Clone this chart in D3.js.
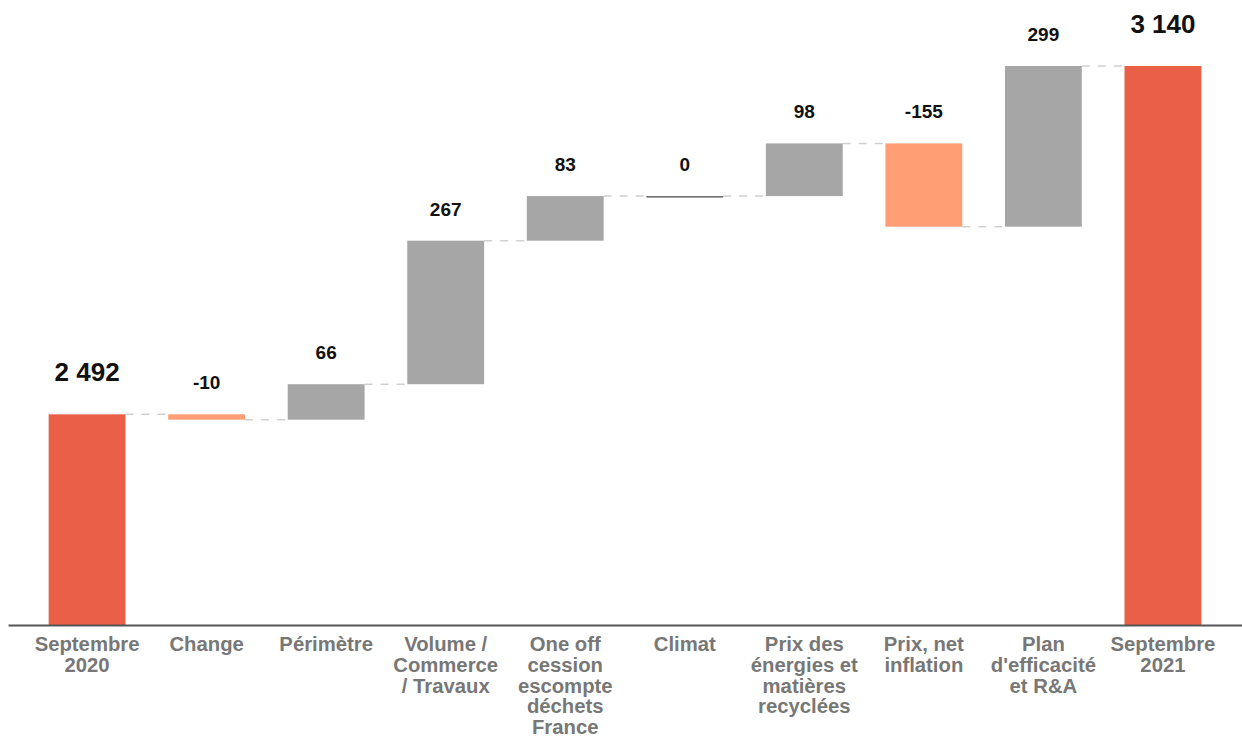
<!DOCTYPE html>
<html>
<head>
<meta charset="utf-8">
<script src="https://cdn.jsdelivr.net/npm/d3@7"></script>
<style>
  body { margin: 0; background: #fff; }
  svg { display: block; font-family: "Liberation Sans", Arial, sans-serif; }
</style>
</head>
<body>
<svg id="chart" width="1242" height="738"></svg>
<script>
// categories (line breaks as in the picture)
const categories = [
  "Septembre\n2020", "Change", "Périmètre", "Volume /\nCommerce\n/ Travaux",
  "One off\ncession\nescompte\ndéchets\nFrance", "Climat",
  "Prix des\nénergies et\nmatières\nrecyclées", "Prix, net\ninflation",
  "Plan\nd'efficacité\net R&A", "Septembre\n2021"
];
// bar values: totals for first/last, deltas in between
const values = [2492, -10, 66, 267, 83, 0, 98, -155, 299, 3140];
const kinds = ["total", "delta", "delta", "delta", "delta", "delta", "delta", "delta", "delta", "total"];
const valueLabels = ["2 492", "-10", "66", "267", "83", "0", "98", "-155", "299", "3 140"];
const yDomain = [2100, 3200];

const svg = d3.select("#chart");

// running sums -> start / end of each bar
let run = 0;
const bars = categories.map((c, i) => {
  let start, end;
  if (kinds[i] === "total") { start = yDomain[0]; end = values[i]; run = values[i]; }
  else { start = run; end = run + values[i]; run = end; }
  return { cat: c, v: values[i], kind: kinds[i], start, end, label: valueLabels[i] };
});

const x = d3.scaleBand()
  .domain(categories)
  .range([8, 1242])
  .paddingInner(0.357)
  .paddingOuter(0.34);

const y = d3.scaleLinear()
  .domain(yDomain)
  .range([625, 33.75]);

function colour(d) {
  if (d.kind === "total") return "#E95F47";
  if (d.v < 0) return "#FF9E74";
  return "#A6A6A6";
}

// connectors
for (let i = 0; i < bars.length - 1; i++) {
  const lvl = bars[i].end;
  svg.append("line")
    .attr("x1", x(bars[i].cat) + x.bandwidth())
    .attr("x2", x(bars[i + 1].cat))
    .attr("y1", y(lvl))
    .attr("y2", y(lvl))
    .attr("stroke", "#d0d0d0")
    .attr("stroke-width", 1.5)
    .attr("stroke-dasharray", "8,8");
}

// bars
svg.selectAll("rect.bar")
  .data(bars)
  .enter()
  .append("rect")
  .attr("class", "bar")
  .attr("x", d => x(d.cat))
  .attr("width", x.bandwidth())
  .attr("y", d => y(Math.max(d.start, d.end)))
  .attr("height", d => Math.max(1.5, Math.abs(y(d.start) - y(d.end))))
  .attr("fill", d => d.v === 0 ? "#666" : colour(d));

// value labels
svg.selectAll("text.val")
  .data(bars)
  .enter()
  .append("text")
  .attr("class", "val")
  .attr("x", d => x(d.cat) + x.bandwidth() / 2)
  .attr("y", d => y(Math.max(d.start, d.end)) - (d.kind === "total" ? 33 : 25))
  .attr("text-anchor", "middle")
  .attr("fill", "#111")
  .style("font-weight", "bold")
  .style("font-size", d => d.kind === "total" ? "26px" : "19px")
  .text(d => d.label);

// x axis
const axis = svg.append("g")
  .attr("transform", "translate(0,625)")
  .call(d3.axisBottom(x).tickSize(0).tickSizeOuter(0));

axis.select(".domain")
  .attr("stroke", "#555")
  .attr("stroke-width", 2);

axis.selectAll(".tick text").each(function (d) {
  const t = d3.select(this);
  t.text(null)
    .attr("y", 26)
    .attr("dy", null)
    .attr("fill", "#777")
    .style("font-family", "'Liberation Sans', Arial, sans-serif")
    .style("font-weight", "bold")
    .style("font-size", "20.3px");
  d.split("\n").forEach((line, k) => {
    t.append("tspan")
      .attr("x", 0)
      .attr("y", 26 + k * 20.8)
      .text(line);
  });
});
</script>
</body>
</html>
